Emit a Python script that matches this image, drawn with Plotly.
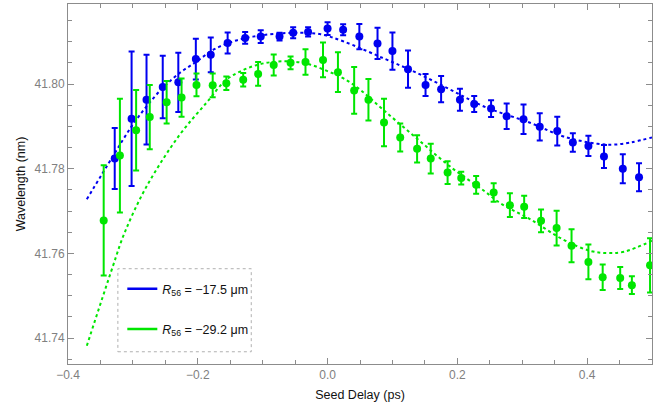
import plotly.graph_objects as go

# ---------------- data ----------------
blue_x = [-0.328, -0.302, -0.279, -0.254, -0.230, -0.203, -0.180, -0.154,
          -0.127, -0.103, -0.074, -0.053, -0.030, 0.000, 0.024,
          0.049, 0.077, 0.100, 0.124, 0.151, 0.175, 0.204,
          0.226, 0.252, 0.276, 0.302, 0.327, 0.354, 0.378,
          0.402, 0.426, 0.455, 0.480]
blue_y = [41.7824, 41.7918, 41.7963, 41.7993, 41.8004, 41.8059, 41.8069, 41.8097,
          41.8109, 41.8112, 41.8112, 41.8121, 41.8123, 41.8131, 41.8128,
          41.8112, 41.8096, 41.8078, 41.8035, 41.7998, 41.7988, 41.7963,
          41.7953, 41.7942, 41.7924, 41.7917, 41.7899, 41.7889, 41.7862,
          41.7854, 41.7829, 41.7800, 41.7780]
blue_err = [0.0072, 0.0159, 0.0106, 0.0074, 0.0070, 0.0048, 0.0041, 0.0025,
            0.0014, 0.0015, 0.0009, 0.0013, 0.0011, 0.0015, 0.0013,
            0.0030, 0.0037, 0.0044, 0.0044, 0.0026, 0.0031, 0.0026,
            0.0019, 0.0020, 0.0030, 0.0035, 0.0032, 0.0034, 0.0022,
            0.0024, 0.0027, 0.0034, 0.0033]

green_x = [-0.345, -0.320, -0.295, -0.274, -0.248, -0.225, -0.202, -0.177,
           -0.156, -0.130, -0.107, -0.083, -0.057, -0.034, -0.007,
           0.016, 0.041, 0.063, 0.087, 0.112, 0.138, 0.159,
           0.185, 0.206, 0.229, 0.256, 0.281, 0.303, 0.329,
           0.353, 0.376, 0.402, 0.424, 0.451, 0.469, 0.497]
green_y = [41.7678, 41.7831, 41.7891, 41.7922, 41.7957, 41.7968, 41.7998, 41.7997,
           41.8002, 41.8010, 41.8024, 41.8045, 41.8050, 41.8052, 41.8057,
           41.8028, 41.7985, 41.7963, 41.7909, 41.7874, 41.7847, 41.7824,
           41.7791, 41.7778, 41.7762, 41.7744, 41.7714, 41.7710, 41.7677,
           41.7660, 41.7618, 41.7580, 41.7544, 41.7542, 41.7525, 41.7572]
green_err = [0.0130, 0.0134, 0.0095, 0.0076, 0.0050, 0.0045, 0.0027, 0.0028,
             0.0016, 0.0016, 0.0028, 0.0025, 0.0015, 0.0030, 0.0041,
             0.0047, 0.0055, 0.0049, 0.0056, 0.0033, 0.0032, 0.0035,
             0.0027, 0.0015, 0.0021, 0.0022, 0.0028, 0.0026, 0.0027,
             0.0041, 0.0039, 0.0041, 0.0030, 0.0026, 0.0021, 0.0064]

blue_fit_x = [-0.371, -0.331, -0.302, -0.279, -0.254, -0.228, -0.202, -0.176,
              -0.145, -0.115, -0.078, -0.042, -0.012, 0.024, 0.086, 0.138,
              0.189, 0.241, 0.313, 0.364, 0.416, 0.441, 0.467, 0.500]
blue_fit_y = [41.7728, 41.7829, 41.7900, 41.7947, 41.7991, 41.8026, 41.8053, 41.8081,
              41.8101, 41.8112, 41.8119, 41.8121, 41.8118, 41.8101, 41.8061, 41.8026,
              41.7987, 41.7947, 41.7908, 41.7876, 41.7859, 41.7857, 41.7862, 41.7874]

green_fit_x = [-0.371, -0.331, -0.313, -0.279, -0.228, -0.187, -0.156, -0.130,
               -0.104, -0.078, -0.053, -0.027, -0.001, 0.024, 0.050, 0.086,
               0.138, 0.189, 0.241, 0.266, 0.313, 0.364, 0.405, 0.431, 0.457, 0.500]
green_fit_y = [41.7382, 41.7569, 41.7648, 41.7758, 41.7880, 41.7955, 41.8010, 41.8033,
               41.8047, 41.8053, 41.8053, 41.8046, 41.8031, 41.8014, 41.7987, 41.7939,
               41.7871, 41.7805, 41.7748, 41.7719, 41.7680, 41.7632, 41.7606, 41.7601,
               41.7604, 41.7630]

series_names = ["<i>R</i><sub>56</sub> = \u221217.5 \u03bcm",
                "<i>R</i><sub>56</sub> = \u221229.2 \u03bcm"]
x_tick_vals = [-0.4, -0.2, 0.0, 0.2, 0.4]
y_tick_vals = [41.74, 41.76, 41.78, 41.80]

BLUE = "#0000f0"
GREEN = "#00e600"

fig = go.Figure()

# fit curves (dotted)
fig.add_trace(go.Scatter(x=blue_fit_x, y=blue_fit_y, mode="lines",
                         line=dict(color=BLUE, width=2, dash="dot", shape="spline", smoothing=1),
                         showlegend=False, hoverinfo="skip"))
fig.add_trace(go.Scatter(x=green_fit_x, y=green_fit_y, mode="lines",
                         line=dict(color=GREEN, width=2, dash="dot", shape="spline", smoothing=1),
                         showlegend=False, hoverinfo="skip"))

# data with error bars
fig.add_trace(go.Scatter(x=blue_x, y=blue_y, mode="markers",
                         marker=dict(color=BLUE, size=8),
                         error_y=dict(type="data", array=blue_err, visible=True,
                                      color=BLUE, thickness=2, width=3),
                         showlegend=False))
fig.add_trace(go.Scatter(x=green_x, y=green_y, mode="markers",
                         marker=dict(color=GREEN, size=8),
                         error_y=dict(type="data", array=green_err, visible=True,
                                      color=GREEN, thickness=2, width=3),
                         showlegend=False))

# legend entries
fig.add_trace(go.Scatter(x=[None], y=[None], mode="lines", name=series_names[0],
                         line=dict(color=BLUE, width=2.5), legendgroup="a"))
fig.add_trace(go.Scatter(x=[None], y=[None], mode="lines", name=series_names[1],
                         line=dict(color=GREEN, width=2.5), legendgroup="b"))

axis_common = dict(
    showline=True, linecolor="#8c8c8c", linewidth=1, mirror="ticks",
    ticks="inside", ticklen=6, tickcolor="#8c8c8c", tickwidth=1,
    showgrid=False, zeroline=False, automargin=False,
    tickfont=dict(family="Liberation Sans, Arial, sans-serif", size=12, color="#808080"),
)

fig.update_layout(
    width=672, height=407,
    margin=dict(l=68, r=20, t=4, b=43),
    paper_bgcolor="white", plot_bgcolor="white",
    font=dict(family="Liberation Sans, Arial, sans-serif", size=12, color="#222"),
    xaxis=dict(range=[-0.4, 0.5], tickvals=x_tick_vals, tickformat=".1f",
               minor=dict(dtick=0.05, tick0=0, ticks="inside", ticklen=4, tickcolor="#8c8c8c"),
               title=dict(text="Seed Delay (ps)", standoff=8,
                          font=dict(size=12.5, color="#111")),
               **axis_common),
    yaxis=dict(range=[41.7339, 41.8189], tickvals=y_tick_vals, tickformat=".2f",
               minor=dict(dtick=0.005, tick0=41.74, ticks="inside", ticklen=4, tickcolor="#8c8c8c"),
               title=dict(text="Wavelength (nm)", standoff=6,
                          font=dict(size=12.5, color="#111")),
               **axis_common),
    legend=dict(x=0.093, y=0.25, xanchor="left", yanchor="top",
                bgcolor="rgba(0,0,0,0)", borderwidth=0,
                tracegroupgap=21, font=dict(size=12.5, color="#111")),
    shapes=[dict(type="rect", xref="paper", yref="paper",
                 x0=0.0854, x1=0.3138, y0=0.034, y1=0.2647,
                 line=dict(color="#b0b0b0", width=1, dash="dot"))],
)

fig.write_html("out.html", config={"displayModeBar": False},
               post_script="document.body.style.margin='0';")
